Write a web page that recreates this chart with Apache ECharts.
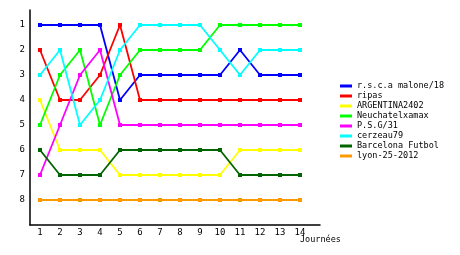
<!DOCTYPE html>
<html><head><meta charset="utf-8">
<script src="https://cdn.jsdelivr.net/npm/echarts@6/dist/echarts.min.js"></script>
<style>html,body{margin:0;padding:0;background:#fff}#c{width:460px;height:255px}</style>
</head><body><div id="c"></div>
<script>
var journees = [1,2,3,4,5,6,7,8,9,10,11,12,13,14];
var rankTicks = [1,2,3,4,5,6,7,8];
var teamNames = ['r.s.c.a malone/18','ripas','ARGENTINA2402','Neuchatelxamax','P.S.G/31','cerzeau79','Barcelona Futbol','lyon-25-2012'];
var teamColors = ['#0000ff','#ff0000','#ffff00','#00ff00','#ff00ff','#00ffff','#006400','#ff9900'];
var rscaMalone = [1,1,1,1,4,3,3,3,3,3,2,3,3,3];
var ripas      = [2,4,4,3,1,4,4,4,4,4,4,4,4,4];
var argentina  = [4,6,6,6,7,7,7,7,7,7,6,6,6,6];
var neuchatel  = [5,3,2,5,3,2,2,2,2,1,1,1,1,1];
var psg        = [7,5,3,2,5,5,5,5,5,5,5,5,5,5];
var cerzeau    = [3,2,5,4,2,1,1,1,1,2,3,2,2,2];
var barcelona  = [6,7,7,7,6,6,6,6,6,6,7,7,7,7];
var lyon       = [8,8,8,8,8,8,8,8,8,8,8,8,8,8];
var allRanks = [rscaMalone,ripas,argentina,neuchatel,psg,cerzeau,barcelona,lyon];

var font = 'DejaVu Sans Mono';
var series = allRanks.map(function(r,i){
  return {
    name: teamNames[i], type:'line', color: teamColors[i],
    data: journees.map(function(j,k){return [j, r[k]];}),
    symbol:'rect', symbolSize:4, showSymbol:true,
    lineStyle:{width:1.8}, animation:false
  };
});
var chart = echarts.init(document.getElementById('c'), null, {renderer:'canvas'});
chart.setOption({
  animation:false,
  title:{text:'Journées', left:295, top:230, padding:5, textStyle:{fontFamily:font,fontSize:8.5,fontWeight:'normal',color:'#000'}},
  grid:{left:30, right:140, top:10, bottom:30},
  legend:{orient:'vertical', left:335, top:76, itemWidth:12, itemHeight:3, itemGap:0, icon:'rect',
    textStyle:{fontFamily:font, fontSize:8.5, color:'#000', lineHeight:7, padding:[3,0,0,0]},
    data: teamNames},
  xAxis:{type:'value', min:0.5, max:15,
    axisLine:{lineStyle:{color:'#000',width:1.5}}, axisTick:{show:false}, splitLine:{show:false},
    axisLabel:{customValues:journees, color:'#000', fontFamily:font, fontSize:9, margin:3}},
  yAxis:{type:'value', inverse:true, min:0.4, max:9,
    axisLine:{show:true, lineStyle:{color:'#000',width:1.5}}, axisTick:{show:false}, splitLine:{show:false},
    axisLabel:{customValues:rankTicks, color:'#000', fontFamily:font, fontSize:9, margin:5}},
  series: series
});
</script></body></html>
